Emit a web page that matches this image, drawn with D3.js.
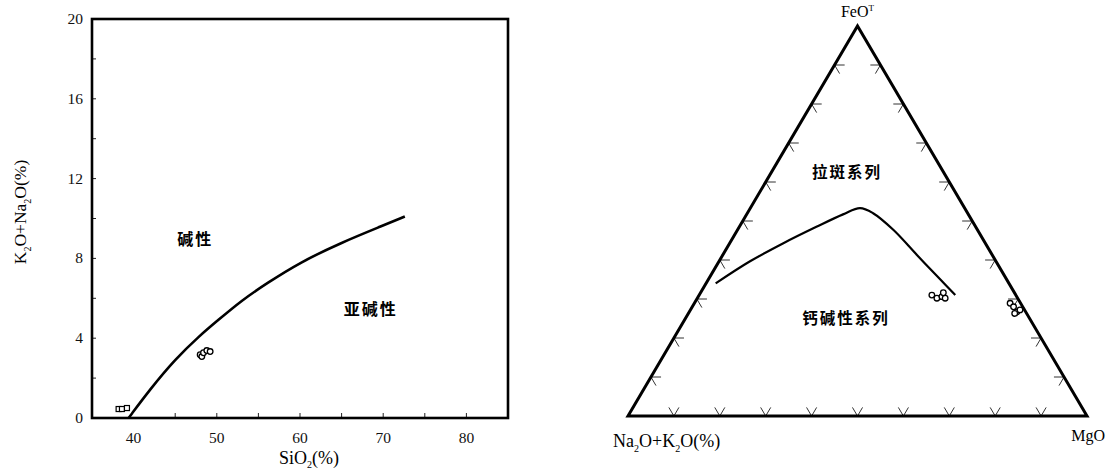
<!DOCTYPE html>
<html><head><meta charset="utf-8">
<script src="https://cdn.jsdelivr.net/npm/d3@7"></script>
<style>body{margin:0;background:#fff}svg{display:block}</style>
</head><body><svg id="c" width="1106" height="473"></svg>
<script>
// ---------- Left diagram: SiO2 vs K2O+Na2O ----------
const xTickLabels = [40, 50, 60, 70, 80];
const xMinorTicks = [45, 50, 55, 60, 65, 70, 75, 80];
const yTickLabels = [0, 4, 8, 12, 16, 20];
const yMinorTicks = [2, 4, 6, 8, 10, 12, 14, 16, 18];
const boundarySiO2 = [39.4, 42, 45, 48, 50, 53, 56, 60, 65, 70, 72.6];
const boundaryAlk  = [0, 1.45, 2.95, 4.15, 4.85, 5.9, 6.75, 7.8, 8.8, 9.65, 10.1];
const squareSiO2 = [38.2, 38.6, 39.2];
const squareAlk  = [0.45, 0.45, 0.5];
const circleSiO2 = [48.0, 48.2, 48.4, 48.8, 49.2];
const circleAlk  = [3.17, 3.08, 3.27, 3.38, 3.33];
const leftFieldNames = ["碱性", "亚碱性"];
const leftFieldSiO2 = [47.4, 68.5];
const leftFieldAlk  = [8.67, 5.16];

// ---------- Right diagram: AFM ternary ----------
const ternTicks = [10, 20, 30, 40, 50, 60, 70, 80, 90];
const curveA = [63.9, 53.7, 44.0, 34.7, 27.3, 22.8, 20.6, 18.3, 16.4, 14.5, 13.2];
const curveF = [34.0, 39.6, 44.3, 48.5, 51.7, 53.3, 52.0, 47.7, 41.3, 35.1, 31.0];
const curveM = [2.1, 6.7, 11.7, 16.8, 21.0, 23.9, 27.4, 34.0, 42.3, 50.4, 55.8];
const pt1A = [18.3, 17.6, 16.3, 15.8, 15.5];
const pt1F = [31.0, 30.2, 30.6, 30.2, 31.6];
const pt1M = [50.7, 52.2, 53.1, 54.0, 52.9];
const pt2A = [2.3, 2.0, 1.9, 1.0, 2.6];
const pt2F = [28.9, 28.0, 26.7, 27.2, 26.3];
const pt2M = [68.8, 70.0, 71.4, 71.8, 71.1];
const ternFieldNames = ["拉斑系列", "钙碱性系列"];
const ternFieldA = [21.8, 40.7];
const ternFieldF = [61.0, 23.6];

const svg = d3.select("#c");
const serif = "'Liberation Serif','DejaVu Serif',serif";
const cjk = "'Noto Sans CJK SC','Noto Sans CJK JP',sans-serif";

// ---- left plot ----
const x = d3.scaleLinear().domain([35, 85]).range([92, 508]);
const y = d3.scaleLinear().domain([0, 20]).range([418, 19]);
const L = svg.append("g");

L.selectAll(".xt").data(xMinorTicks).join("line")
  .attr("x1", d => x(d)).attr("x2", d => x(d))
  .attr("y1", y(0)).attr("y2", y(0) - 5)
  .attr("stroke", "#222").attr("stroke-width", 1);
L.selectAll(".yt").data(yMinorTicks).join("line")
  .attr("x1", x(35)).attr("x2", x(35) + 4)
  .attr("y1", d => y(d)).attr("y2", d => y(d))
  .attr("stroke", "#222").attr("stroke-width", 1);

L.append("rect")
  .attr("x", x(35)).attr("y", y(20))
  .attr("width", x(85) - x(35)).attr("height", y(0) - y(20))
  .attr("fill", "none").attr("stroke", "#000").attr("stroke-width", 2.6);

L.selectAll(".xl").data(xTickLabels).join("text")
  .attr("x", d => x(d)).attr("y", y(0) + 25)
  .attr("text-anchor", "middle").attr("font-family", serif)
  .attr("font-size", 15.5).attr("fill", "#111").text(d => d);
L.selectAll(".yl").data(yTickLabels).join("text")
  .attr("x", x(35) - 9).attr("y", d => y(d) + 5)
  .attr("text-anchor", "end").attr("font-family", serif)
  .attr("font-size", 15.5).attr("fill", "#111").text(d => d);

const xt = L.append("text").attr("x", 309).attr("y", 464)
  .attr("text-anchor", "middle").attr("font-family", serif).attr("font-size", 18);
xt.append("tspan").text("SiO");
xt.append("tspan").attr("font-size", 10).attr("dy", 4).text("2");
xt.append("tspan").attr("dy", -4).text("(%)");

const yt = L.append("text").attr("transform", "translate(26,212) rotate(-90)")
  .attr("text-anchor", "middle").attr("font-family", serif).attr("font-size", 17.5);
yt.append("tspan").text("K");
yt.append("tspan").attr("font-size", 10).attr("dy", 5).text("2");
yt.append("tspan").attr("dy", -5).text("O+Na");
yt.append("tspan").attr("font-size", 10).attr("dy", 5).text("2");
yt.append("tspan").attr("dy", -5).text("O(%)");

const bData = boundarySiO2.map((s, i) => [s, boundaryAlk[i]]);
L.append("path").datum(bData)
  .attr("d", d3.line().x(d => x(d[0])).y(d => y(d[1])).curve(d3.curveBasis))
  .attr("fill", "none").attr("stroke", "#000").attr("stroke-width", 2.6);

L.selectAll(".sq").data(squareSiO2.map((s, i) => [s, squareAlk[i]])).join("rect")
  .attr("x", d => x(d[0]) - 2.5).attr("y", d => y(d[1]) - 2.5)
  .attr("width", 5).attr("height", 5)
  .attr("fill", "#fff").attr("stroke", "#000").attr("stroke-width", 1.2);
L.selectAll(".ci").data(circleSiO2.map((s, i) => [s, circleAlk[i]])).join("circle")
  .attr("cx", d => x(d[0])).attr("cy", d => y(d[1])).attr("r", 2.8)
  .attr("fill", "#fff").attr("stroke", "#000").attr("stroke-width", 1.3);

L.selectAll(".fn").data(leftFieldNames).join("text")
  .attr("x", (d, i) => x(leftFieldSiO2[i])).attr("y", (d, i) => y(leftFieldAlk[i]))
  .attr("text-anchor", "middle").attr("font-family", cjk).attr("font-weight", 600)
  .attr("font-size", 16).attr("letter-spacing", 2).text(d => d);

// ---- right ternary plot ----
const hx = d3.scaleLinear().domain([0, 100]).range([628, 1087]);
const fy = d3.scaleLinear().domain([0, 100]).range([416, 26]);
function proj(a, f, m) {
  const s = a + f + m;
  return [hx((m + f / 2) / s * 100), fy(f / s * 100)];
}
const R = svg.append("g");

const dd = 2.2;
const stubs = [];
ternTicks.forEach(t => {
  stubs.push([[100 - t, t, 0], [100 - t - dd, t, dd]]);
  stubs.push([[100 - t, t, 0], [100 - t, t - dd, dd]]);
  stubs.push([[0, t, 100 - t], [dd, t, 100 - t - dd]]);
  stubs.push([[0, t, 100 - t], [dd, t - dd, 100 - t]]);
  stubs.push([[100 - t, 0, t], [100 - t - dd, dd, t]]);
  stubs.push([[100 - t, 0, t], [100 - t, dd, t - dd]]);
});
R.selectAll(".tk").data(stubs).join("line")
  .attr("x1", d => proj(...d[0])[0]).attr("y1", d => proj(...d[0])[1])
  .attr("x2", d => proj(...d[1])[0]).attr("y2", d => proj(...d[1])[1])
  .attr("stroke", "#333").attr("stroke-width", 1);

const tri = [[100, 0, 0], [0, 100, 0], [0, 0, 100]].map(v => proj(...v));
R.append("path").attr("d", d3.line()(tri) + "Z")
  .attr("fill", "none").attr("stroke", "#000").attr("stroke-width", 3)
  .attr("stroke-linejoin", "miter");

const cData = curveA.map((a, i) => proj(a, curveF[i], curveM[i]));
R.append("path").datum(cData)
  .attr("d", d3.line().curve(d3.curveCatmullRom.alpha(0.5)))
  .attr("fill", "none").attr("stroke", "#000").attr("stroke-width", 2.2);

const ptsAll = pt1A.map((a, i) => proj(a, pt1F[i], pt1M[i]))
  .concat(pt2A.map((a, i) => proj(a, pt2F[i], pt2M[i])));
R.selectAll(".tp").data(ptsAll).join("circle")
  .attr("cx", d => d[0]).attr("cy", d => d[1]).attr("r", 2.8)
  .attr("fill", "#fff").attr("stroke", "#000").attr("stroke-width", 1.3);

R.selectAll(".tf").data(ternFieldNames).join("text")
  .attr("x", (d, i) => proj(ternFieldA[i], ternFieldF[i], 100 - ternFieldA[i] - ternFieldF[i])[0])
  .attr("y", (d, i) => proj(ternFieldA[i], ternFieldF[i], 100 - ternFieldA[i] - ternFieldF[i])[1])
  .attr("text-anchor", "middle").attr("font-family", cjk).attr("font-weight", 600)
  .attr("font-size", 15.5).attr("letter-spacing", 2).text(d => d);

const fl = R.append("text").attr("x", tri[1][0]).attr("y", tri[1][1] - 9)
  .attr("text-anchor", "middle").attr("font-family", serif).attr("font-size", 16);
fl.append("tspan").text("FeO");
fl.append("tspan").attr("font-size", 9).attr("dy", -6).text("T");

const al = R.append("text").attr("x", 613).attr("y", 447)
  .attr("font-family", serif).attr("font-size", 18);
al.append("tspan").text("Na");
al.append("tspan").attr("font-size", 10).attr("dy", 5).text("2");
al.append("tspan").attr("dy", -5).text("O+K");
al.append("tspan").attr("font-size", 10).attr("dy", 5).text("2");
al.append("tspan").attr("dy", -5).text("O(%)");

R.append("text").attr("x", 1105).attr("y", 441)
  .attr("text-anchor", "end").attr("font-family", serif).attr("font-size", 16).text("MgO");
</script></body></html>
